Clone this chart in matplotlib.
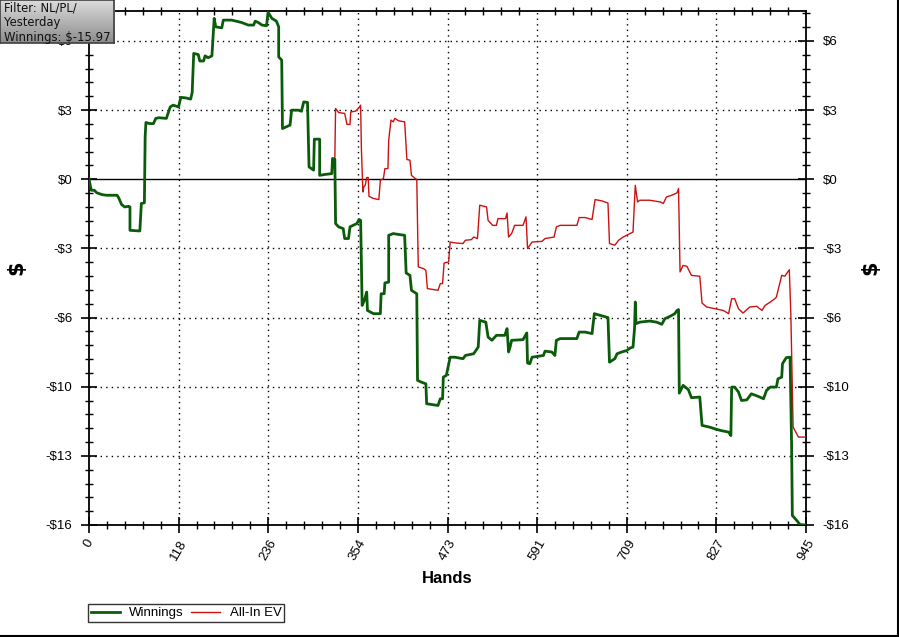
import numpy as np
import matplotlib
matplotlib.use("Agg")
import matplotlib.pyplot as plt
from matplotlib.ticker import FixedLocator, MultipleLocator
from matplotlib.lines import Line2D

# ---------------- data ----------------
win_hands = [0, 3, 7, 10, 17, 23, 37, 39, 43, 47, 52, 54, 54, 67, 69, 73, 74, 75, 80, 85, 88, 92, 102,
             107, 111, 118, 121, 127, 134, 136, 138, 144, 146, 151, 153, 157, 162, 165, 167, 175, 177,
             188, 201, 210, 217, 219, 223, 228, 234, 236, 241, 247, 250, 250, 254, 255, 265, 267, 276,
             280, 283, 288, 290, 296, 297, 304, 304, 311, 320, 321, 324, 325, 329, 335, 337, 342, 344,
             348, 353, 356, 358, 360, 363, 366, 367, 375, 384, 385, 389, 390, 395, 395, 401, 406, 416,
             418, 423, 425, 432, 433, 438, 444, 445, 460, 463, 466, 467, 471, 476, 482, 493, 496, 507,
             513, 515, 523, 526, 531, 537, 548, 551, 553, 555, 557, 572, 577, 578, 581, 584, 599, 601,
             610, 614, 616, 621, 643, 646, 654, 663, 666, 678, 684, 686, 693, 696, 702, 709, 713, 717,
             719, 720, 721, 726, 739, 748, 755, 759, 766, 772, 775, 777, 778, 783, 790, 794, 805, 808,
             818, 825, 832, 843, 846, 847, 851, 856, 860, 867, 873, 882, 889, 893, 898, 906, 908, 913,
             914, 919, 924, 926, 927, 933, 937, 945]
win_values = [0.00, -0.51, -0.51, -0.62, -0.71, -0.74, -0.74, -0.85, -1.17, -1.28, -1.25, -1.28, -2.36,
              -2.39, -1.12, -1.09, 1.96, 2.62, 2.57, 2.57, 2.81, 2.84, 2.81, 3.34, 3.42, 3.34, 3.78,
              3.76, 3.70, 4.01, 5.81, 5.76, 5.46, 5.46, 5.70, 5.61, 5.70, 7.43, 7.04, 6.99, 7.35, 7.35,
              7.24, 7.12, 7.12, 7.30, 7.24, 7.12, 7.09, 7.71, 7.43, 7.30, 7.04, 5.65, 5.50, 2.34, 2.50,
              3.19, 3.19, 3.14, 3.57, 3.55, 0.57, 0.42, 1.85, 1.85, 0.18, 0.22, 0.26, 0.96, 0.92, -2.05,
              -2.20, -2.28, -2.74, -2.74, -2.20, -2.13, -2.05, -1.86, -1.90, -5.83, -5.59, -5.21, -6.06,
              -6.21, -6.21, -5.29, -5.29, -4.79, -4.75, -2.59, -2.51, -2.54, -2.59, -4.33, -4.44, -5.13,
              -5.29, -9.29, -9.37, -9.45, -10.37, -10.45, -10.14, -10.14, -9.14, -9.06, -8.22, -8.22,
              -8.29, -8.14, -8.06, -7.75, -6.52, -6.60, -7.29, -7.44, -7.21, -7.21, -6.90, -7.98, -7.75,
              -7.44, -7.41, -7.10, -8.49, -8.52, -8.22, -8.14, -7.94, -7.98, -8.14, -7.44, -7.36, -7.36,
              -7.06, -7.06, -7.13, -6.21, -6.33, -6.39, -8.45, -8.29, -8.06, -7.98, -7.91, -7.80, -7.75,
              -6.90, -5.67, -6.67, -6.60, -6.55, -6.60, -6.70, -6.44, -6.33, -6.21, -6.06, -6.02, -9.88,
              -9.52, -9.72, -10.09, -10.06, -11.37, -11.45, -11.53, -11.60, -11.68, -11.84, -9.60, -9.60,
              -9.83, -10.22, -10.19, -9.91, -10.03, -10.14, -9.75, -9.60, -9.60, -9.22, -9.14, -8.52,
              -8.24, -8.22, -12.22, -15.53, -15.77, -15.95, -15.97]

ev_hands = [324, 325, 329, 337, 340, 344, 345, 351, 355, 358, 359, 361, 362, 364, 366, 368, 369, 375,
            382, 384, 388, 390, 394, 395, 398, 401, 403, 408, 416, 419, 423, 425, 430, 432, 434, 441,
            444, 446, 460, 463, 466, 468, 474, 476, 482, 493, 496, 504, 507, 512, 515, 524, 526, 532,
            537, 539, 549, 551, 553, 557, 561, 572, 576, 578, 584, 597, 601, 613, 616, 621, 643, 646,
            654, 663, 667, 676, 684, 686, 693, 698, 704, 713, 717, 720, 723, 726, 739, 753, 757, 761,
            768, 775, 777, 779, 783, 788, 794, 805, 808, 814, 825, 836, 843, 847, 851, 856, 862, 871,
            880, 887, 891, 898, 904, 906, 913, 917, 923, 925, 928, 935, 945]
ev_values = [0.92, 3.27, 3.08, 3.04, 2.53, 2.53, 3.11, 3.14, 3.27, 3.42, 1.42, -0.59, -0.36, -0.28,
             0.08, 0.08, -0.79, -0.89, -0.94, -0.05, 0.03, 0.49, 0.49, 1.80, 2.73, 2.65, 2.81, 2.70,
             2.65, 0.91, 0.88, 0.18, 0.03, -0.01, -4.05, -4.13, -4.21, -5.05, -5.13, -4.82, -4.82,
             -3.87, -3.82, -2.90, -2.94, -2.97, -2.82, -2.79, -2.67, -2.74, -1.20, -1.28, -1.90, -2.13,
             -2.13, -1.82, -1.82, -1.56, -2.67, -2.51, -2.13, -2.13, -1.74, -3.20, -2.90, -2.87, -2.74,
             -2.67, -2.20, -2.13, -2.13, -1.77, -1.77, -1.86, -0.94, -1.00, -1.10, -2.97, -3.05, -2.82,
             -2.67, -2.51, -2.44, -0.28, -1.05, -0.97, -0.97, -1.05, -1.12, -0.82, -0.74, -0.63, -0.43,
             -4.28, -3.98, -4.02, -4.44, -4.48, -5.72, -5.90, -5.98, -6.06, -6.21, -5.52, -5.52, -5.98,
             -6.18, -5.90, -5.87, -6.06, -5.83, -5.67, -5.52, -5.44, -4.44, -4.48, -4.18, -6.21, -11.45,
             -11.91, -11.91]

x_ticks = [0, 118.125, 236.25, 354.375, 472.5, 590.625, 708.75, 826.875, 945]
x_tick_labels = ["0", "118", "236", "354", "473", "591", "709", "827", "945"]
y_ticks = [-15.97, -12.776, -9.582, -6.388, -3.194, 0.0, 3.194, 6.388]
y_tick_labels = ["-$16", "-$13", "-$10", "-$6", "-$3", "$0", "$3", "$6"]
y_min, y_max = -15.97, 7.77
x_min, x_max = 0, 945

filter_text = "Filter: NL/PL/\nYesterday\nWinnings: $-15.97"

# ---------------- figure ----------------
W, H = 899, 637
fig = plt.figure(figsize=(W / 100, H / 100), dpi=100)
fig.patch.set_facecolor("white")

ax = fig.add_axes([89 / W, 1 - 525 / H, (806 - 89) / W, (525 - 11) / H])
ax.set_xlim(x_min, x_max)
ax.set_ylim(y_min, y_max)

# grid (dotted at major ticks)
for xv in x_ticks[1:-1]:
    ax.axvline(xv, color="black", lw=1.0, ls=(0, (1, 3)), zorder=1)
for yv in y_ticks:
    if yv != 0.0 and yv != y_min:
        ax.axhline(yv, color="black", lw=1.0, ls=(0, (1, 3)), zorder=1)
ax.axhline(0.0, color="black", lw=1.0, zorder=2)

ax.plot(ev_hands, ev_values, color="#cc1111", lw=1.0, zorder=3, label="All-In EV")
ax.plot(win_hands, win_values, color="#0a5c0a", lw=2.0, zorder=4, label="Winnings")

ax.xaxis.set_major_locator(FixedLocator(x_ticks))
ax.xaxis.set_minor_locator(MultipleLocator(945 / 40))
ax.yaxis.set_major_locator(FixedLocator(y_ticks))
ax.yaxis.set_minor_locator(MultipleLocator(3.194 / 5))
ax.set_xticklabels(x_tick_labels, rotation=60, ha="center", va="top", fontsize=9.5,
                   family="Liberation Sans")
ax.set_yticklabels(y_tick_labels, fontsize=9.5, family="Liberation Sans")

ax.tick_params(axis="both", which="major", direction="inout", length=12, width=1.2,
               top=True, right=True, labelright=True, pad=6)
ax.tick_params(axis="both", which="minor", direction="inout", length=6, width=1.0,
               top=True, right=True)
ax.tick_params(axis="x", which="major", top=False, pad=3)
for s in ax.spines.values():
    s.set_linewidth(1.3)

ax.set_xlabel("Hands", fontsize=12, fontweight="bold", family="Liberation Sans", labelpad=6)
ax.set_ylabel("$", fontsize=15, fontweight="bold", family="DejaVu Sans", labelpad=14)
fig.text(870 / W, 1 - 268 / H, "$", fontsize=15, fontweight="bold", family="DejaVu Sans",
         rotation=90, ha="center", va="center")

# legend
handles = [Line2D([], [], color="#0a5c0a", lw=2.0), Line2D([], [], color="#cc1111", lw=1.0)]
leg = fig.legend(handles, ["Winnings", "All-In EV"], loc="lower left",
                 bbox_to_anchor=(88 / W, 1 - 622 / H), ncol=2, frameon=True, fancybox=False,
                 prop={"family": "Liberation Sans", "size": 9.5}, borderpad=0.2,
                 handlelength=2.2, handletextpad=0.7, columnspacing=0.6, borderaxespad=0)
leg.get_frame().set_edgecolor("black")
leg.get_frame().set_linewidth(1.0)

# filter box with gradient
bax = fig.add_axes([0, 1 - 43 / H, 114 / W, 43 / H], zorder=10)
grad = np.linspace(0.86, 0.55, 64).reshape(-1, 1)
bax.imshow(grad, aspect="auto", cmap="gray", vmin=0, vmax=1, extent=[0, 1, 0, 1])
bax.set_xlim(0, 1)
bax.set_ylim(0, 1)
bax.set_xticks([])
bax.set_yticks([])
for s in bax.spines.values():
    s.set_color("#404040")
    s.set_linewidth(1.2)
bax.text(0.035, 0.47, filter_text, fontsize=8.4, family="DejaVu Sans", color="#111111",
         ha="left", va="center", linespacing=1.15, transform=bax.transAxes)

# figure border right / bottom
fig.add_artist(Line2D([897.5 / W, 897.5 / W], [1 - 635.5 / H, 1], color="black", lw=1.5,
                      transform=fig.transFigure))
fig.add_artist(Line2D([0, 897.5 / W], [1 - 635.5 / H, 1 - 635.5 / H], color="black", lw=1.5,
                      transform=fig.transFigure))

fig.savefig("out.png", dpi=100)
